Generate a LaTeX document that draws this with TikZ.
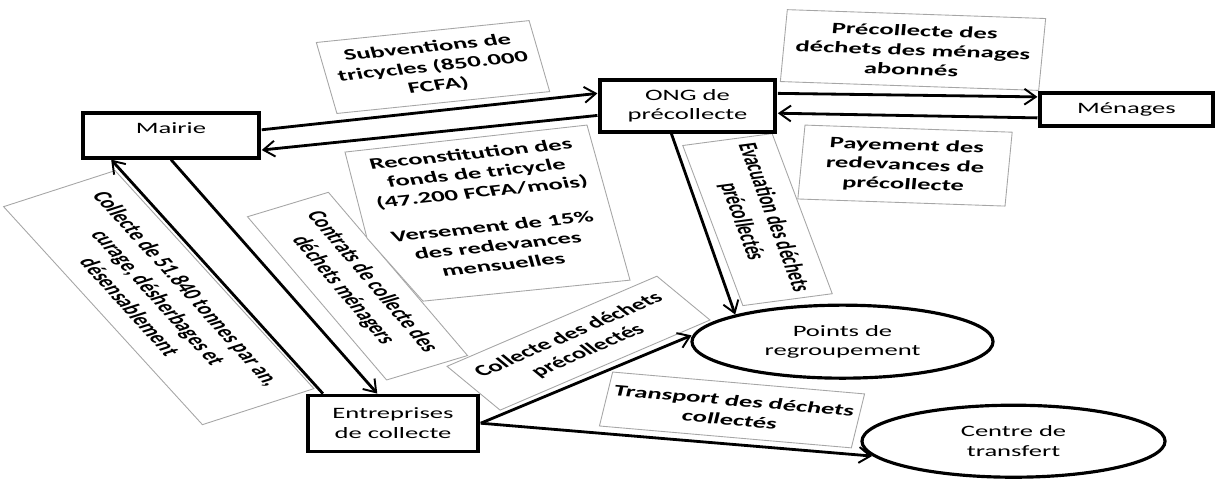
\documentclass[tikz,border=0pt]{standalone}
\usepackage{fontspec}
\setmainfont{Carlito}
\usetikzlibrary{arrows.meta,calc,shapes.geometric}

\tikzset{
  boxnode/.style={draw, line width=1.8pt, fill=white, align=center, inner sep=2pt},
  roundnode/.style={ellipse, draw, line width=1.8pt, fill=white, align=center, inner sep=0pt},
  lbl/.style={draw=gray!70, line width=0.5pt, fill=white, align=center, inner sep=1pt,
    font=\bfseries\fontsize{9}{11}\selectfont},
  lblline/.style={draw=gray!70, line width=0.5pt, fill=white},
  flow/.style={line width=1.6pt, -{Straight Barb[length=6.5pt,width=9pt,line width=1.1pt]}},
}

\begin{document}
\begin{tikzpicture}[x=0.011905cm, y=-0.02cm, xscale=1.68, transform shape,
    every node/.append style={font=\fontsize{9}{11}\selectfont}]

    \useasboundingbox (0,0) rectangle (1215,478);

    % labels of the flows
    \node[lbl, rotate=9.8, minimum width=2.57cm, minimum height=1.44cm] (subv) at (433,67) {Subventions de\\tricycles (850.000\\FCFA)};
    \node[lbl, rotate=-3.3, minimum width=3.08cm, minimum height=1.44cm] (precol) at (913,50) {Précollecte des\\déchets des ménages\\abonnés};
    \node[lbl, rotate=-3.3, minimum width=2.47cm, minimum height=1.48cm] (payement) at (905,165.5) {Payement des\\redevances de\\précollecte};
    \node[lbl, rotate=-77.4, minimum width=3.28cm, minimum height=1.09cm] (evac) at (757.5,219.5) {Evacuation des déchets\\précollectés};
    \node[lbl, rotate=-63.1, minimum width=3.66cm, minimum height=1.08cm] (contrats) at (357.5,286) {Contrats de collecte des\\déchets ménagers};
    \node[lbl, rotate=-61.5, minimum width=4.96cm, minimum height=1.51cm] (coltonnes) at (158.75,297.5) {Collecte de 51.840 tonnes par an,\\curage, désherbages et\\désensablement};
    \node[lbl, rotate=35.8, minimum width=3.08cm, minimum height=1.08cm] (colprec) at (578.5,343) {Collecte des déchets\\précollectés};
    \node[lbl, rotate=-8.3, minimum width=3.03cm, minimum height=1.09cm] (transport) at (732,409.75) {Transport des déchets\\collectés};

    % callout
    \draw[lblline] (345,152) -- (587,125) -- (630,280) -- (423,301) -- (367,238) -- cycle;
    \node[lbl, draw=none, fill=none, rotate=10] (reconst) at (487,209) {Reconstitution des\\fonds de tricycle\\(47.200 FCFA/mois)\\[9pt]Versement de 15\%\\des redevances\\mensuelles};

    % actors
    \node[boxnode, minimum width=2.095cm, minimum height=0.9cm, text depth=8pt] (mairie) at (171,135.5) {Mairie};
    \node[boxnode, minimum width=2.083cm, minimum height=1.04cm] (ong) at (687.5,106) {ONG de\\précollecte};
    \node[boxnode, minimum width=2.06cm, minimum height=0.66cm] (menages) at (1126.5,109.5) {Ménages};
    \node[boxnode, minimum width=2.024cm, minimum height=1.12cm] (entreprises) at (393,423) {Entreprises\\de collecte};
    \node[roundnode, minimum width=3.583cm, minimum height=1.46cm] (points) at (842.5,341.5) {Points de\\regroupement};
    \node[roundnode, minimum width=3.607cm, minimum height=1.44cm] (centre) at (1013.5,441) {Centre de\\transfert};

    % flows
    \draw[flow] ($(mairie.north east)!0.38!(mairie.south east)$) -- ($(ong.north west)!0.27!(ong.south west)$); % mairie -> ong
    \draw[flow] ($(ong.north west)!0.67!(ong.south west)$) -- ($(mairie.north east)!0.8!(mairie.south east)$); % ong -> mairie
    \draw[flow] ($(ong.north east)!0.27!(ong.south east)$) -- ($(menages.north west)!0.15!(menages.south west)$); % ong -> menages
    \draw[flow] ($(menages.north west)!0.73!(menages.south west)$) -- ($(ong.north east)!0.63!(ong.south east)$); % menages -> ong
    \draw[flow] (mairie.south) -- ($(entreprises.north west)!0.41!(entreprises.north east)$); % mairie -> entreprises
    \draw[flow] ($(entreprises.north west)!0.1!(entreprises.north east)$) -- ($(mairie.south west)!0.17!(mairie.south east)$); % entreprises -> mairie
    \draw[flow] ($(ong.south west)!0.41!(ong.south east)$) -- (points.157); % ong -> points
    \draw[flow] (entreprises.east) -- (points.176); % entreprises -> points
    \draw[flow] (entreprises.east) -- (centre.190); % entreprises -> centre

\end{tikzpicture}
\end{document}
